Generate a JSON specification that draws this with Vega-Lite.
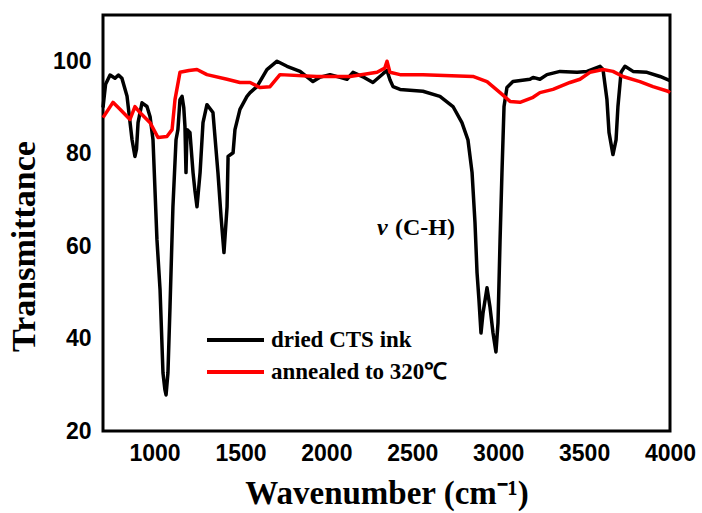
{
  "$schema": "https://vega.github.io/schema/vega-lite/v6.json",
  "width": 567,
  "height": 416,
  "autosize": "none",
  "padding": {"left": 103, "top": 15, "right": 32, "bottom": 82},
  "background": "white",
  "config": {
    "view": {"stroke": "black", "strokeWidth": 3},
    "axis": {
      "grid": false,
      "domain": false,
      "ticks": true,
      "tickSize": 0.01,
      "tickOpacity": 0,
      "labelFont": "Liberation Sans",
      "labelFontWeight": "bold",
      "labelFontSize": 23,
      "labelColor": "black",
      "labelOverlap": false,
      "labelFlush": false,
      "titleFont": "Liberation Serif",
      "titleFontWeight": "bold",
      "titleColor": "black"
    }
  },
  "datasets": {
    "xticks": [
      {"wn": 750}, {"wn": 1000}, {"wn": 1250}, {"wn": 1500}, {"wn": 1750}, {"wn": 2000}, {"wn": 2250},
      {"wn": 2500}, {"wn": 2750}, {"wn": 3000}, {"wn": 3250}, {"wn": 3500}, {"wn": 3750}
    ],
    "yticks": [
      {"t": 30}, {"t": 40}, {"t": 50}, {"t": 60}, {"t": 70}, {"t": 80}, {"t": 90}, {"t": 100}
    ],
    "spectra": [
      {"series": "dried CTS ink", "wn": 700, "t": 90},
      {"series": "dried CTS ink", "wn": 715, "t": 95},
      {"series": "dried CTS ink", "wn": 741, "t": 97},
      {"series": "dried CTS ink", "wn": 770, "t": 96.3},
      {"series": "dried CTS ink", "wn": 790, "t": 97},
      {"series": "dried CTS ink", "wn": 810, "t": 96.3},
      {"series": "dried CTS ink", "wn": 840, "t": 92.4},
      {"series": "dried CTS ink", "wn": 869, "t": 83},
      {"series": "dried CTS ink", "wn": 886, "t": 79.4},
      {"series": "dried CTS ink", "wn": 895, "t": 81},
      {"series": "dried CTS ink", "wn": 904, "t": 86.7},
      {"series": "dried CTS ink", "wn": 927, "t": 91},
      {"series": "dried CTS ink", "wn": 956, "t": 90.2},
      {"series": "dried CTS ink", "wn": 974, "t": 88},
      {"series": "dried CTS ink", "wn": 991, "t": 83},
      {"series": "dried CTS ink", "wn": 1014, "t": 61.4},
      {"series": "dried CTS ink", "wn": 1032, "t": 50.6},
      {"series": "dried CTS ink", "wn": 1049, "t": 32.6},
      {"series": "dried CTS ink", "wn": 1060, "t": 29},
      {"series": "dried CTS ink", "wn": 1067, "t": 27.8},
      {"series": "dried CTS ink", "wn": 1078, "t": 32.6},
      {"series": "dried CTS ink", "wn": 1090, "t": 46.9},
      {"series": "dried CTS ink", "wn": 1107, "t": 68.5},
      {"series": "dried CTS ink", "wn": 1125, "t": 83},
      {"series": "dried CTS ink", "wn": 1136, "t": 85.2},
      {"series": "dried CTS ink", "wn": 1148, "t": 91.7},
      {"series": "dried CTS ink", "wn": 1160, "t": 92.4},
      {"series": "dried CTS ink", "wn": 1170, "t": 90},
      {"series": "dried CTS ink", "wn": 1177, "t": 85.9},
      {"series": "dried CTS ink", "wn": 1183, "t": 75.9},
      {"series": "dried CTS ink", "wn": 1189, "t": 85.2},
      {"series": "dried CTS ink", "wn": 1206, "t": 84.6},
      {"series": "dried CTS ink", "wn": 1224, "t": 75.9},
      {"series": "dried CTS ink", "wn": 1235, "t": 72},
      {"series": "dried CTS ink", "wn": 1247, "t": 68.5},
      {"series": "dried CTS ink", "wn": 1265, "t": 75.9},
      {"series": "dried CTS ink", "wn": 1282, "t": 86.7},
      {"series": "dried CTS ink", "wn": 1305, "t": 90.6},
      {"series": "dried CTS ink", "wn": 1340, "t": 88.9},
      {"series": "dried CTS ink", "wn": 1369, "t": 75.9},
      {"series": "dried CTS ink", "wn": 1387, "t": 66.4},
      {"series": "dried CTS ink", "wn": 1404, "t": 58.6},
      {"series": "dried CTS ink", "wn": 1422, "t": 68.5},
      {"series": "dried CTS ink", "wn": 1428, "t": 79.4},
      {"series": "dried CTS ink", "wn": 1457, "t": 80.2},
      {"series": "dried CTS ink", "wn": 1468, "t": 85.2},
      {"series": "dried CTS ink", "wn": 1497, "t": 89.6},
      {"series": "dried CTS ink", "wn": 1538, "t": 92.4},
      {"series": "dried CTS ink", "wn": 1556, "t": 93.2},
      {"series": "dried CTS ink", "wn": 1596, "t": 94.5},
      {"series": "dried CTS ink", "wn": 1654, "t": 98.2},
      {"series": "dried CTS ink", "wn": 1713, "t": 100},
      {"series": "dried CTS ink", "wn": 1771, "t": 98.9},
      {"series": "dried CTS ink", "wn": 1847, "t": 97.8},
      {"series": "dried CTS ink", "wn": 1922, "t": 95.6},
      {"series": "dried CTS ink", "wn": 1960, "t": 96.5},
      {"series": "dried CTS ink", "wn": 2021, "t": 97.1},
      {"series": "dried CTS ink", "wn": 2080, "t": 96.5},
      {"series": "dried CTS ink", "wn": 2120, "t": 96.1},
      {"series": "dried CTS ink", "wn": 2155, "t": 97.6},
      {"series": "dried CTS ink", "wn": 2220, "t": 96.5},
      {"series": "dried CTS ink", "wn": 2271, "t": 95.4},
      {"series": "dried CTS ink", "wn": 2330, "t": 97.3},
      {"series": "dried CTS ink", "wn": 2353, "t": 98},
      {"series": "dried CTS ink", "wn": 2370, "t": 96},
      {"series": "dried CTS ink", "wn": 2388, "t": 94.5},
      {"series": "dried CTS ink", "wn": 2429, "t": 93.9},
      {"series": "dried CTS ink", "wn": 2562, "t": 93.5},
      {"series": "dried CTS ink", "wn": 2661, "t": 92.4},
      {"series": "dried CTS ink", "wn": 2737, "t": 90.2},
      {"series": "dried CTS ink", "wn": 2789, "t": 86.7},
      {"series": "dried CTS ink", "wn": 2824, "t": 83},
      {"series": "dried CTS ink", "wn": 2848, "t": 75.9},
      {"series": "dried CTS ink", "wn": 2865, "t": 65.1},
      {"series": "dried CTS ink", "wn": 2877, "t": 54.2},
      {"series": "dried CTS ink", "wn": 2888, "t": 48.4},
      {"series": "dried CTS ink", "wn": 2900, "t": 41.2},
      {"series": "dried CTS ink", "wn": 2912, "t": 45.6},
      {"series": "dried CTS ink", "wn": 2935, "t": 51},
      {"series": "dried CTS ink", "wn": 2952, "t": 46.9},
      {"series": "dried CTS ink", "wn": 2970, "t": 41.2},
      {"series": "dried CTS ink", "wn": 2987, "t": 37.1},
      {"series": "dried CTS ink", "wn": 2999, "t": 43.4},
      {"series": "dried CTS ink", "wn": 3011, "t": 61.4},
      {"series": "dried CTS ink", "wn": 3022, "t": 75.9},
      {"series": "dried CTS ink", "wn": 3034, "t": 90.2},
      {"series": "dried CTS ink", "wn": 3051, "t": 94.3},
      {"series": "dried CTS ink", "wn": 3086, "t": 95.6},
      {"series": "dried CTS ink", "wn": 3185, "t": 96.1},
      {"series": "dried CTS ink", "wn": 3203, "t": 96.5},
      {"series": "dried CTS ink", "wn": 3243, "t": 96.1},
      {"series": "dried CTS ink", "wn": 3284, "t": 97.1},
      {"series": "dried CTS ink", "wn": 3360, "t": 97.8},
      {"series": "dried CTS ink", "wn": 3459, "t": 97.6},
      {"series": "dried CTS ink", "wn": 3517, "t": 97.8},
      {"series": "dried CTS ink", "wn": 3593, "t": 98.9},
      {"series": "dried CTS ink", "wn": 3610, "t": 98.2},
      {"series": "dried CTS ink", "wn": 3633, "t": 91.7},
      {"series": "dried CTS ink", "wn": 3645, "t": 84.6},
      {"series": "dried CTS ink", "wn": 3668, "t": 79.8},
      {"series": "dried CTS ink", "wn": 3686, "t": 83},
      {"series": "dried CTS ink", "wn": 3697, "t": 90.2},
      {"series": "dried CTS ink", "wn": 3715, "t": 97.6},
      {"series": "dried CTS ink", "wn": 3738, "t": 98.9},
      {"series": "dried CTS ink", "wn": 3785, "t": 97.8},
      {"series": "dried CTS ink", "wn": 3866, "t": 97.6},
      {"series": "dried CTS ink", "wn": 3942, "t": 96.7},
      {"series": "dried CTS ink", "wn": 4000, "t": 95.8},
      {"series": "annealed to 320℃", "wn": 700, "t": 87.8},
      {"series": "annealed to 320℃", "wn": 758, "t": 91.1},
      {"series": "annealed to 320℃", "wn": 799, "t": 89.6},
      {"series": "annealed to 320℃", "wn": 857, "t": 87.4},
      {"series": "annealed to 320℃", "wn": 886, "t": 90.2},
      {"series": "annealed to 320℃", "wn": 915, "t": 88.9},
      {"series": "annealed to 320℃", "wn": 974, "t": 86.7},
      {"series": "annealed to 320℃", "wn": 1020, "t": 83.5},
      {"series": "annealed to 320℃", "wn": 1072, "t": 83.7},
      {"series": "annealed to 320℃", "wn": 1102, "t": 85.2},
      {"series": "annealed to 320℃", "wn": 1119, "t": 91.7},
      {"series": "annealed to 320℃", "wn": 1148, "t": 97.6},
      {"series": "annealed to 320℃", "wn": 1200, "t": 98},
      {"series": "annealed to 320℃", "wn": 1247, "t": 98.2},
      {"series": "annealed to 320℃", "wn": 1305, "t": 97.1},
      {"series": "annealed to 320℃", "wn": 1422, "t": 96.1},
      {"series": "annealed to 320℃", "wn": 1497, "t": 95.4},
      {"series": "annealed to 320℃", "wn": 1556, "t": 95.4},
      {"series": "annealed to 320℃", "wn": 1614, "t": 94.3},
      {"series": "annealed to 320℃", "wn": 1672, "t": 94.5},
      {"series": "annealed to 320℃", "wn": 1730, "t": 97.1},
      {"series": "annealed to 320℃", "wn": 1945, "t": 96.7},
      {"series": "annealed to 320℃", "wn": 2138, "t": 96.7},
      {"series": "annealed to 320℃", "wn": 2295, "t": 97.6},
      {"series": "annealed to 320℃", "wn": 2340, "t": 98.5},
      {"series": "annealed to 320℃", "wn": 2353, "t": 100},
      {"series": "annealed to 320℃", "wn": 2370, "t": 97.6},
      {"series": "annealed to 320℃", "wn": 2429, "t": 97.1},
      {"series": "annealed to 320℃", "wn": 2562, "t": 97.1},
      {"series": "annealed to 320℃", "wn": 2853, "t": 96.7},
      {"series": "annealed to 320℃", "wn": 2935, "t": 95.6},
      {"series": "annealed to 320℃", "wn": 3011, "t": 93.2},
      {"series": "annealed to 320℃", "wn": 3069, "t": 91.3},
      {"series": "annealed to 320℃", "wn": 3127, "t": 91.1},
      {"series": "annealed to 320℃", "wn": 3203, "t": 92.2},
      {"series": "annealed to 320℃", "wn": 3243, "t": 93.2},
      {"series": "annealed to 320℃", "wn": 3319, "t": 93.9},
      {"series": "annealed to 320℃", "wn": 3418, "t": 95.4},
      {"series": "annealed to 320℃", "wn": 3476, "t": 96.1},
      {"series": "annealed to 320℃", "wn": 3534, "t": 97.6},
      {"series": "annealed to 320℃", "wn": 3610, "t": 98.2},
      {"series": "annealed to 320℃", "wn": 3668, "t": 97.8},
      {"series": "annealed to 320℃", "wn": 3726, "t": 96.7},
      {"series": "annealed to 320℃", "wn": 3825, "t": 95.6},
      {"series": "annealed to 320℃", "wn": 3901, "t": 94.5},
      {"series": "annealed to 320℃", "wn": 3988, "t": 93.5},
      {"series": "annealed to 320℃", "wn": 4000, "t": 93.2}
    ],
    "notes": [
      {"part": "nu", "wn": 2295, "t": 62.5, "txt": "ν"},
      {"part": "group", "wn": 2399, "t": 62.5, "txt": "(C-H)"}
    ]
  },
  "encoding": {
    "x": {
      "field": "wn",
      "type": "quantitative",
      "scale": {"domain": [700, 4000], "nice": false, "zero": false},
      "axis": {
        "title": "Wavenumber (cm⁻¹)",
        "titleFontSize": 33,
        "titlePadding": 12,
        "format": "d",
        "values": [1000, 1500, 2000, 2500, 3000, 3500, 4000],
        "labelPadding": 11
      }
    },
    "y": {
      "field": "t",
      "type": "quantitative",
      "scale": {"domain": [20, 110], "nice": false, "zero": false},
      "axis": {
        "title": "Transmittance",
        "titleFontSize": 34,
        "titlePadding": 11,
        "titleY": 231,
        "values": [20, 40, 60, 80, 100],
        "labelPadding": 12
      }
    }
  },
  "layer": [
    {
      "data": {"name": "xticks"},
      "transform": [{"filter": "datum.wn % 500 === 0"}],
      "mark": {"type": "rule", "stroke": "#000000", "strokeWidth": 3, "opacity": 1},
      "encoding": {
        "x": {"field": "wn", "type": "quantitative"},
        "y": {"datum": 20, "type": "quantitative"},
        "y2": {"datum": 22}
      }
    },
    {
      "data": {"name": "xticks"},
      "transform": [{"filter": "datum.wn % 500 !== 0"}],
      "mark": {"type": "rule", "stroke": "#000000", "strokeWidth": 3, "opacity": 1},
      "encoding": {
        "x": {"field": "wn", "type": "quantitative"},
        "y": {"datum": 20, "type": "quantitative"},
        "y2": {"datum": 21}
      }
    },
    {
      "data": {"name": "yticks"},
      "transform": [{"filter": "datum.t % 20 === 0"}],
      "mark": {"type": "rule", "stroke": "#000000", "strokeWidth": 3, "opacity": 1},
      "encoding": {
        "y": {"field": "t", "type": "quantitative"},
        "x": {"datum": 700, "type": "quantitative"},
        "x2": {"datum": 753}
      }
    },
    {
      "data": {"name": "yticks"},
      "transform": [{"filter": "datum.t % 20 !== 0"}],
      "mark": {"type": "rule", "stroke": "#000000", "strokeWidth": 3, "opacity": 1},
      "encoding": {
        "y": {"field": "t", "type": "quantitative"},
        "x": {"datum": 700, "type": "quantitative"},
        "x2": {"datum": 727}
      }
    },
    {
      "data": {"name": "spectra"},
      "transform": [{"filter": "datum.series === 'dried CTS ink'"}],
      "mark": {"type": "line", "strokeWidth": 3.5, "strokeJoin": "round"},
      "encoding": {
        "color": {
          "field": "series",
          "type": "nominal",
          "scale": {"domain": ["dried CTS ink", "annealed to 320℃"], "range": ["black", "#ff0000"]},
          "legend": {
            "orient": "none",
            "legendX": 102,
            "legendY": 313,
            "title": null,
            "symbolType": "stroke",
            "symbolSize": 3249,
            "symbolStrokeWidth": 4,
            "labelFont": "Liberation Serif",
            "labelFontWeight": "bold",
            "labelFontSize": 23,
            "labelColor": "black",
            "labelLimit": 0,
            "labelOffset": 5,
            "clipHeight": 24,
            "rowPadding": 8
          }
        }
      }
    },
    {
      "data": {"name": "spectra"},
      "transform": [{"filter": "datum.series !== 'dried CTS ink'"}],
      "mark": {"type": "line", "strokeWidth": 3.5, "strokeJoin": "round"},
      "encoding": {
        "color": {"field": "series", "type": "nominal"}
      }
    },
    {
      "data": {"name": "notes"},
      "transform": [{"filter": "datum.part === 'nu'"}],
      "mark": {"type": "text", "align": "left", "baseline": "alphabetic", "font": "Liberation Serif", "fontWeight": "bold", "fontStyle": "italic", "fontSize": 24, "color": "black"},
      "encoding": {"text": {"field": "txt"}}
    },
    {
      "data": {"name": "notes"},
      "transform": [{"filter": "datum.part === 'group'"}],
      "mark": {"type": "text", "align": "left", "baseline": "alphabetic", "font": "Liberation Serif", "fontWeight": "bold", "fontSize": 24, "color": "black"},
      "encoding": {"text": {"field": "txt"}}
    }
  ]
}
